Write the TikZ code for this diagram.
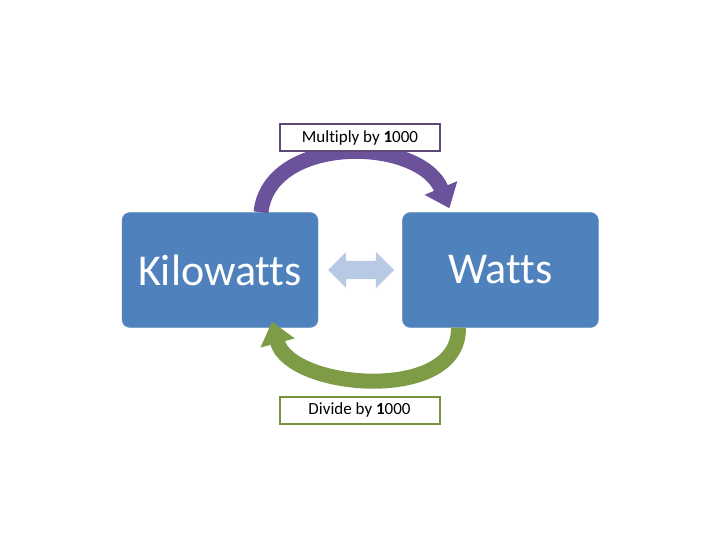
\documentclass[tikz,border=0pt]{standalone}
\usepackage{fontspec}
\setmainfont[Ligatures=NoCommon]{Carlito}
\usetikzlibrary{arrows.meta,positioning,shapes.arrows}
\definecolor{unitblue}{HTML}{4F81BD}
\definecolor{swapblue}{HTML}{B7C9E3}
\definecolor{mulpurple}{HTML}{6B529A}
\definecolor{mulborder}{HTML}{5F497A}
\definecolor{divgreen}{HTML}{7E9C45}
\definecolor{divborder}{HTML}{76923C}
\tikzset{
  unit/.style={fill=unitblue, draw=unitblue!90!white, rounded corners=8pt,
               minimum width=196pt, minimum height=115pt, inner sep=0pt,
               text=white, font=\fontsize{44}{50}\selectfont},
  opbox/.style={draw, line width=2pt, fill=white, minimum width=160pt,
                minimum height=27pt, inner sep=2pt, font=\fontsize{17}{19}\selectfont},
  curvearrow/.style={line width=15pt},
}

\begin{document}
\begin{tikzpicture}[x=1pt,y=-1pt]
    \useasboundingbox (0,0) rectangle (720,540);
    \node[unit] (kw) at (220,270) {Kilowatts};
    \node[unit,right=84pt of kw] (w) {Watts};
    \node[double arrow, fill=swapblue, inner xsep=0pt, inner ysep=9pt,
      double arrow head extend=9pt, double arrow head indent=0pt,
      minimum height=66pt] (swap) at (361,270) {};
    % curved arrows
    \draw[curvearrow,mulpurple,-{Triangle[length=22pt,width=34pt]}]
      ([xshift=41pt]kw.north) .. controls +(8,-78) and +(-30,-72) ..
      ([xshift=-51pt,yshift=4pt]w.north);
    \draw[curvearrow,divgreen,-{Triangle[length=22pt,width=34pt]}]
      ([xshift=-42pt]w.south) .. controls +(2,76) and +(18,68) ..
      ([xshift=52pt,yshift=6pt]kw.south);
    \node[opbox,draw=mulborder] (mul) at (360,137.5) {Multiply by \textbf{1}000};
    \node[opbox,draw=divborder] (div) at (359.5,410) {Divide by \textbf{1}000};
\end{tikzpicture}
\end{document}
